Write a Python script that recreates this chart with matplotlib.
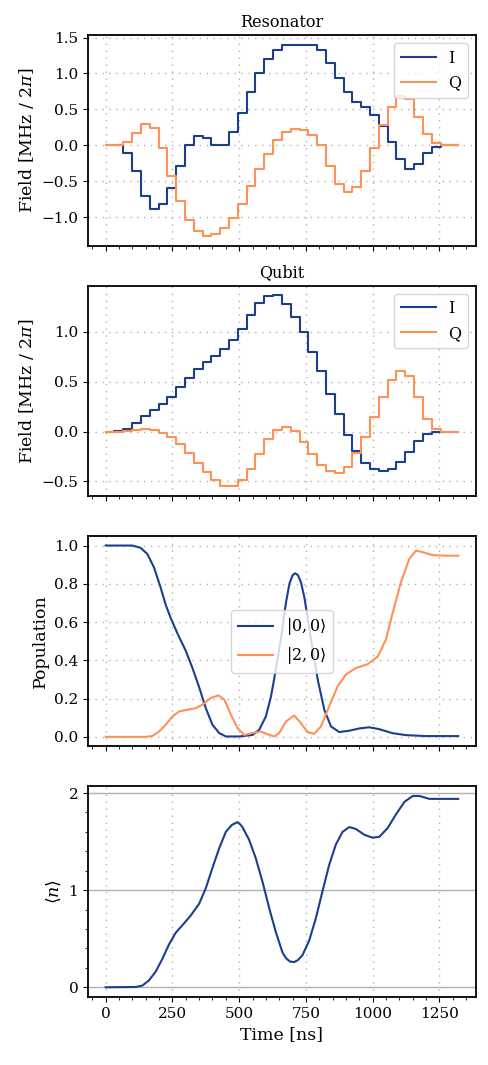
import numpy as np
import matplotlib
matplotlib.use("Agg")
import matplotlib.pyplot as plt
from matplotlib.ticker import MultipleLocator

plt.rcParams['font.family'] = ['DejaVu Serif']
plt.rcParams['mathtext.fontset'] = 'dejavuserif'

# ---- data ----
step_ns = 33.0
res_I = [0.0, 0.0, -0.10, -0.36, -0.71, -0.89, -0.82, -0.59, -0.28, 0.0,
         0.135, 0.10, 0.005, 0.01, 0.19, 0.45, 0.74, 1.01, 1.20, 1.33,
         1.40, 1.40, 1.40, 1.39, 1.33, 1.15, 0.94, 0.74, 0.61, 0.53,
         0.42, 0.27, 0.05, -0.19, -0.33, -0.26, -0.11, -0.02, 0.0, 0.0]
res_Q = [0.0, 0.01, 0.05, 0.17, 0.30, 0.24, -0.04, -0.43, -0.78, -1.04,
         -1.19, -1.26, -1.23, -1.15, -1.01, -0.81, -0.57, -0.33, -0.12, 0.07,
         0.19, 0.23, 0.22, 0.15, 0.0, -0.28, -0.53, -0.65, -0.58, -0.36,
         -0.04, 0.29, 0.54, 0.68, 0.64, 0.40, 0.16, 0.03, 0.0, 0.0]
qub_I = [0.0, 0.003, 0.027, 0.084, 0.154, 0.22, 0.28, 0.35, 0.45, 0.54,
         0.63, 0.70, 0.76, 0.83, 0.92, 1.03, 1.17, 1.29, 1.36, 1.37,
         1.28, 1.15, 1.00, 0.80, 0.61, 0.38, 0.18, -0.03, -0.19, -0.31,
         -0.38, -0.40, -0.38, -0.30, -0.20, -0.09, -0.02, 0.0, 0.0, 0.0]
qub_Q = [0.0, 0.0, 0.01, 0.02, 0.027, 0.017, -0.017, -0.057, -0.12, -0.21,
         -0.31, -0.41, -0.49, -0.55, -0.55, -0.49, -0.37, -0.22, -0.07, 0.02,
         0.05, 0.01, -0.10, -0.22, -0.33, -0.40, -0.42, -0.35, -0.21, -0.05,
         0.15, 0.35, 0.52, 0.61, 0.56, 0.35, 0.13, 0.027, 0.0, 0.0]

pop00_t = [0, 100, 131, 156, 181, 206, 225, 244, 269, 300, 325, 350, 375, 400,
           425, 450, 500, 550, 575, 600, 619, 637, 656, 675, 688, 700, 710, 720,
           731, 744, 769, 794, 819, 844, 875, 912, 950, 987, 1025, 1075, 1125,
           1200, 1320]
pop00 = [1.0, 1.0, 0.988, 0.956, 0.886, 0.78, 0.69, 0.62, 0.54, 0.45, 0.36, 0.26,
         0.15, 0.063, 0.02, 0.002, 0.002, 0.01, 0.037, 0.107, 0.21, 0.35, 0.51,
         0.70, 0.80, 0.845, 0.855, 0.845, 0.81, 0.73, 0.51, 0.30, 0.14, 0.054,
         0.025, 0.032, 0.044, 0.05, 0.04, 0.019, 0.009, 0.004, 0.004]
pop20_t = [0, 150, 175, 200, 225, 250, 275, 300, 337, 362, 394, 422, 444, 469,
           494, 519, 550, 581, 606, 631, 650, 675, 706, 731, 756, 781, 806, 837,
           869, 900, 937, 981, 1019, 1050, 1075, 1106, 1137, 1162, 1187, 1225,
           1275, 1320]
pop20 = [0.0, 0.0, 0.005, 0.028, 0.063, 0.107, 0.133, 0.14, 0.15, 0.168, 0.203,
         0.217, 0.195, 0.116, 0.046, 0.01, 0.02, 0.028, 0.014, 0.002, 0.02, 0.08,
         0.112, 0.072, 0.025, 0.016, 0.054, 0.16, 0.265, 0.326, 0.36, 0.38, 0.42,
         0.51, 0.65, 0.81, 0.93, 0.974, 0.965, 0.95, 0.947, 0.947]
n_t = [0, 112, 137, 162, 187, 212, 237, 262, 294, 319, 350, 375, 400, 425, 450,
       472, 485, 494, 503, 512, 537, 562, 587, 612, 637, 662, 675, 690, 706, 720,
       737, 762, 787, 812, 837, 862, 887, 912, 937, 969, 1000, 1025, 1056, 1087,
       1119, 1150, 1175, 1212, 1262, 1320]
n_mean = [0.0, 0.003, 0.017, 0.07, 0.16, 0.29, 0.44, 0.56, 0.66, 0.74, 0.86,
          1.02, 1.23, 1.43, 1.60, 1.67, 1.69, 1.70, 1.68, 1.65, 1.52, 1.33, 1.09,
          0.82, 0.57, 0.36, 0.30, 0.265, 0.26, 0.28, 0.33, 0.48, 0.71, 0.99, 1.26,
          1.47, 1.60, 1.65, 1.63, 1.57, 1.54, 1.55, 1.64, 1.78, 1.91, 1.97, 1.97,
          1.94, 1.94, 1.94]

BLUE = '#1b3e8e'
ORANGE = '#ff9157'

def step_xy(vals):
    t = np.arange(len(vals) + 1) * step_ns
    v = list(vals) + [vals[-1]]
    return t, v

fig, axes = plt.subplots(4, 1, figsize=(4.89, 10.65), dpi=100, sharex=True)
fig.subplots_adjust(left=0.18, right=0.973, top=0.967, bottom=0.064, hspace=0.19)

grid_kw = dict(color='#b0b0b0', linestyle=(0, (1, 4)), linewidth=1.0)
LBL = 12.5
TCK = 11
LEG = 11.5

for ax, (I, Q, title) in zip(axes[:2], [(res_I, res_Q, 'Resonator'),
                                        (qub_I, qub_Q, 'Qubit')]):
    t, v = step_xy(I)
    ax.step(t, v, where='post', color=BLUE, lw=1.5, label='I')
    t, v = step_xy(Q)
    ax.step(t, v, where='post', color=ORANGE, lw=1.5, label='Q')
    ax.set_title(title, fontsize=11.5)
    ax.set_ylabel(r'Field [MHz / 2$\pi$]', fontsize=LBL)
    ax.legend(loc='upper right', fontsize=LEG, fancybox=True, framealpha=0.8,
              edgecolor='#cccccc', handlelength=2.2)
    ax.grid(True, **grid_kw)
    ax.yaxis.set_major_locator(MultipleLocator(0.5))

ax = axes[2]
ax.plot(pop00_t, pop00, color=BLUE, lw=1.5, label=r'$|0, 0\rangle$')
ax.plot(pop20_t, pop20, color=ORANGE, lw=1.5, label=r'$|2, 0\rangle$')
ax.set_ylabel('Population', fontsize=LBL)
ax.legend(loc='center', fontsize=LEG, framealpha=0.8, edgecolor='#cccccc',
          handlelength=2.2)
ax.grid(True, **grid_kw)
ax.yaxis.set_major_locator(MultipleLocator(0.2))

ax = axes[3]
ax.plot(n_t, n_mean, color=BLUE, lw=1.5)
ax.set_ylabel(r'$\langle n\rangle$', fontsize=LBL)
ax.set_xlabel('Time [ns]', fontsize=LBL)
ax.yaxis.set_major_locator(MultipleLocator(1))
ax.yaxis.set_minor_locator(MultipleLocator(0.2))
ax.grid(True, axis='x', **grid_kw)
ax.grid(True, axis='y', color='#b0b0b0', linestyle='-', linewidth=1.0)

for ax in axes:
    ax.xaxis.set_major_locator(MultipleLocator(250))
    ax.xaxis.set_minor_locator(MultipleLocator(50))
    ax.tick_params(labelsize=TCK)
    for s in ax.spines.values():
        s.set_linewidth(1.3)
    ax.set_axisbelow(True)

fig.savefig('out.png', dpi=100)
